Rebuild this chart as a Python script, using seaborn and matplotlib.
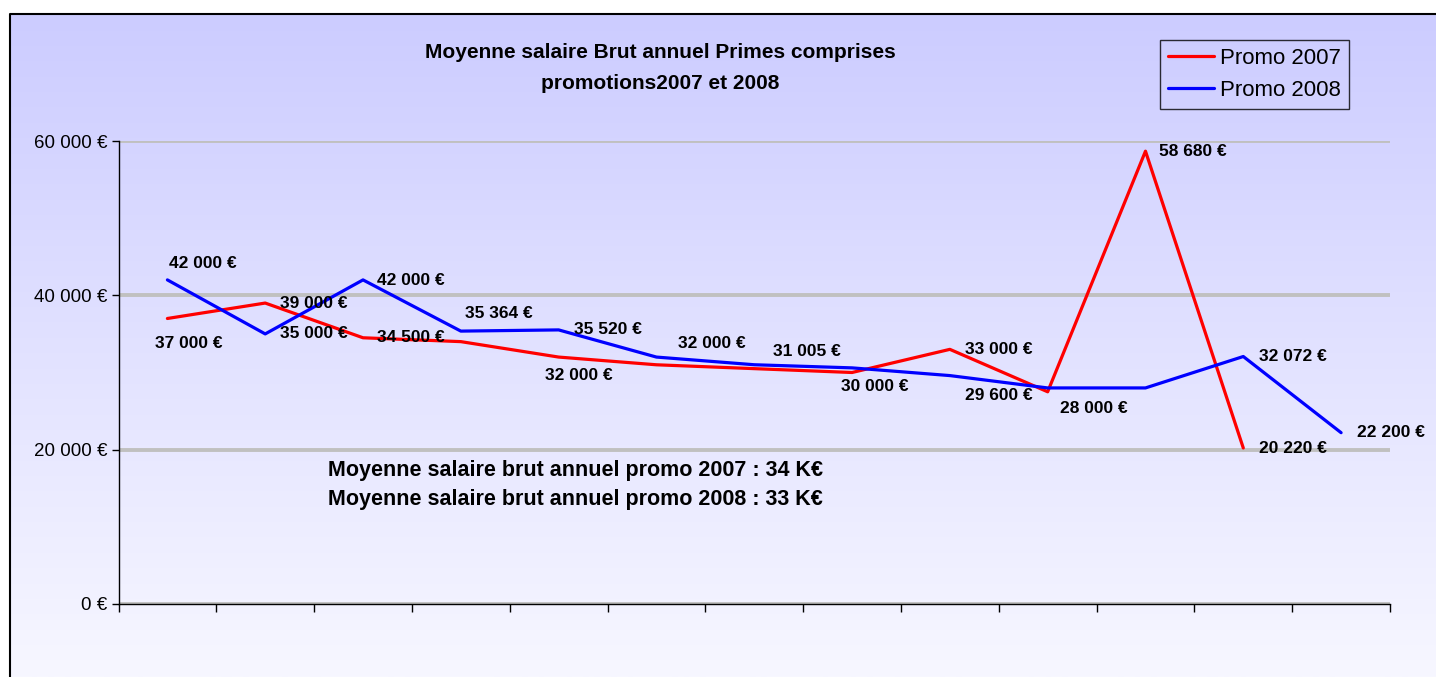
import numpy as np
import pandas as pd
import matplotlib
matplotlib.use("Agg")
import matplotlib.pyplot as plt
from matplotlib.ticker import FuncFormatter, FixedLocator
import seaborn as sns

# Data (13 unnamed categories)
n_cat = 13
promo_2007 = [37000, 39000, 34500, 34000, 32000, 31000, 30500, 30000, 33000, 27500, 58680, 20220]
promo_2008 = [42000, 35000, 42000, 35364, 35520, 32000, 31005, 30600, 29600, 28000, 28000, 32072, 22200]
# which points carry a visible data label
shown_2007 = [True, True, True, False, True, False, False, True, True, False, True, True]
shown_2008 = [True, True, True, True, True, True, True, False, True, True, False, True, True]
y_ticks = [0, 20000, 40000, 60000]

title = "Moyenne salaire Brut annuel Primes comprises\npromotions2007 et 2008"
note = ("Moyenne salaire brut annuel promo 2007 : 34 K€\n"
        "Moyenne salaire brut annuel promo 2008 : 33 K€")

# label offsets in pixels (dx, dy) relative to each point
off_2007 = [(-12, -25), (15, 0), (14, 0), None, (-14, -18), None, None, (-11, -14),
            (15, 0), None, (14, 0), (16, -1)]
off_2008 = [(2, 16), (15, 0), (14, -1), (4, 18), (15, 0), (22, 14), (19, 13), None,
            (15, -20), (12, -21), None, (16, 0), (16, 0)]


def euro(v):
    return f"{int(v):,}".replace(",", " ") + " €"


df = pd.concat([
    pd.DataFrame({"pos": range(len(promo_2007)), "salaire": promo_2007, "promo": "Promo 2007"}),
    pd.DataFrame({"pos": range(len(promo_2008)), "salaire": promo_2008, "promo": "Promo 2008"}),
])

sns.set_style("white")
plt.rcParams["font.family"] = ["Liberation Sans", "DejaVu Sans"]
plt.rcParams["text.color"] = "black"
plt.rcParams["xtick.color"] = "black"
plt.rcParams["ytick.color"] = "black"

W, H = 1436, 677
fig = plt.figure(figsize=(W / 100, H / 100), dpi=100)

# gradient chart area with frame
bg = fig.add_axes([0, 0, 1, 1], zorder=-1)
bg.set_xlim(0, W)
bg.set_ylim(H, 0)
bg.axis("off")
top_c = np.array([204, 204, 255]) / 255
bot_c = np.array([247, 247, 255]) / 255
t = np.linspace(0, 1, 256)[:, None]
grad = (top_c * (1 - t) + bot_c * t)[:, None, :]
bg.imshow(grad, extent=(10, W, H, 14), aspect="auto", interpolation="bilinear")
bg.plot([10, 10, W], [H, 14, 14], color="black", lw=1.5)

ax = fig.add_axes([118.5 / W, 1 - 604 / H, (1390 - 118.5) / W, (604 - 141) / H])
ax.set_facecolor("none")

sns.lineplot(data=df, x="pos", y="salaire", hue="promo",
             palette={"Promo 2007": "#FF0000", "Promo 2008": "#0000FF"},
             linewidth=2.3, ax=ax, errorbar=None)

ax.set_xlim(-0.5, n_cat - 0.5)
ax.set_ylim(0, 60000)
ax.xaxis.set_major_locator(FixedLocator(np.arange(-0.5, n_cat, 1.0)))
ax.set_xticklabels([])
ax.yaxis.set_major_locator(FixedLocator(y_ticks))
ax.yaxis.set_major_formatter(FuncFormatter(lambda v, p: euro(v)))
ax.tick_params(axis="x", direction="out", length=6, width=1, color="black", bottom=True)
ax.tick_params(axis="y", direction="out", length=5, width=1, color="black", left=True,
               labelsize=13.5, labelcolor="black", pad=3)
ax.set_xlabel("")
ax.set_ylabel("")
for s in ["top", "right"]:
    ax.spines[s].set_visible(False)
for s in ["left", "bottom"]:
    ax.spines[s].set_color("black")
    ax.spines[s].set_linewidth(1.0)
ax.set_axisbelow(True)
ax.yaxis.grid(True, color="#C0C0C0", linewidth=2.8)
ax.xaxis.grid(False)

# data labels
for vals, shown, offs in [(promo_2007, shown_2007, off_2007), (promo_2008, shown_2008, off_2008)]:
    for i, v in enumerate(vals):
        if shown[i]:
            ax.annotate(euro(v), xy=(i, v), xytext=offs[i], textcoords="offset pixels",
                        ha="left", va="center", fontsize=12.5, fontweight="bold", color="black")

# legend
handles, labels = ax.get_legend_handles_labels()
leg = ax.legend(handles, labels, loc="upper left", bbox_to_anchor=(1160 / W, 1 - 40 / H),
                bbox_transform=fig.transFigure, borderaxespad=0, frameon=True, fancybox=False,
                edgecolor="black", facecolor="none", fontsize=16, handlelength=2.1,
                handletextpad=0.25, labelspacing=0.5, borderpad=0.35, labelcolor="black")
leg.get_frame().set_linewidth(1.0)

fig.text(660 / W, 1 - 68 / H, title, ha="center", va="center", fontsize=15,
         fontweight="bold", color="black", linespacing=1.75)
fig.text(328 / W, 1 - 485 / H, note, ha="left", va="center", fontsize=15.5,
         fontweight="bold", color="black", linespacing=1.55)

fig.savefig("out.png", dpi=100)
